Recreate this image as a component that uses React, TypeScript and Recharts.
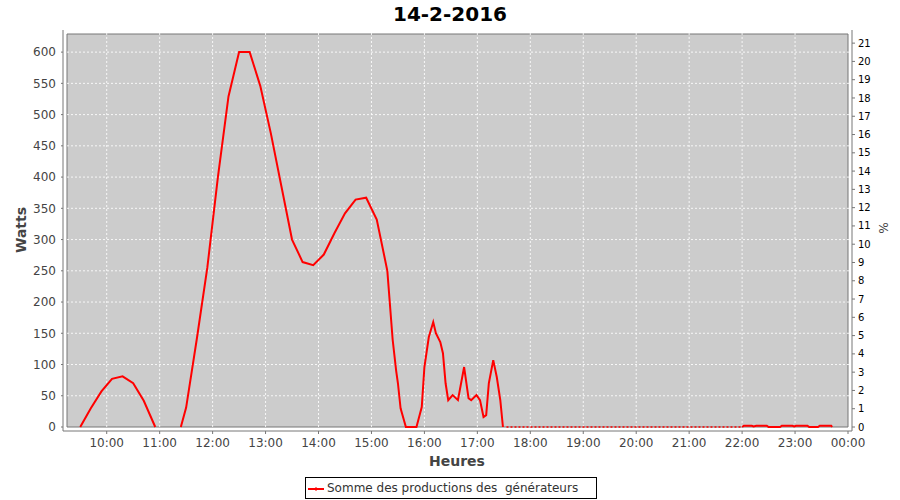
import { LineChart, Line, XAxis, YAxis, ReferenceArea, ReferenceLine } from 'recharts';

// minutes since midnight / watts (null = no data)
const times = [
  570, 582, 594, 606, 618, 630, 642, 655, 668,
  684, 690, 702, 714, 726, 738, 750, 762, 774, 786, 798, 810, 822, 834, 846, 858, 870, 882, 894, 906, 918,
  924, 928, 930, 933, 939, 951,
  957, 960, 965, 970, 973, 978, 981, 984, 987, 992, 998, 1005, 1010, 1013, 1019, 1023, 1027, 1030, 1033, 1038, 1042, 1046, 1049,
  1100,
  1320, 1322, 1331, 1333, 1336, 1348, 1350, 1363, 1365, 1377, 1379, 1381, 1394, 1396, 1406, 1408, 1421, 1422,
];
const watts = [
  0, 30, 57, 77, 81, 70, 42, 0, null,
  0, 31, 140, 255, 400, 529, 600, 600, 546, 470, 385, 300, 264, 259, 276, 310, 342, 364, 367, 332, 250,
  140, 90, 70, 30, 0, 0,
  32, 96, 144, 168, 150, 136, 118, 70, 43, 51, 43, 96, 46, 43, 51, 43, 16, 19, 70, 107, 80, 43, 0,
  null,
  0, 2, 2, 1, 2, 2, 0, 0, 2, 2, 1, 2, 2, 0, 0, 2, 2, 0,
];

// dotted zero stretch after sunset
const tailTimes = [1053, 1320];
const tailValues = [0, 0];

const hourTicks = [600, 660, 720, 780, 840, 900, 960, 1020, 1080, 1140, 1200, 1260, 1320, 1380, 1440];
const wattTicks = [0, 50, 100, 150, 200, 250, 300, 350, 400, 450, 500, 550, 600];
const pctTicks = [0, 1, 2, 3, 4, 5, 6, 7, 8, 9, 10, 11, 12, 13, 14, 15, 16, 17, 18, 19, 20, 21];

const data = times.map((t, i) => ({ t, w: watts[i] }));
const tail = tailTimes.map((t, i) => ({ t, p: tailValues[i] }));

const font = '"DejaVu Sans", sans-serif';

const fmtHour = (m: number) => {
  const h = Math.floor(m / 60) % 24;
  return `${h < 10 ? '0' : ''}${h}:00`;
};

export default function App() {
  return (
    <div style={{ position: 'relative', width: 900, height: 500, fontFamily: font, background: '#fff' }}>
      <style>{`body{margin:0}`}</style>
      <LineChart width={900} height={500} margin={{ top: 30, right: 8, bottom: 39, left: 3 }}>
        <XAxis
          dataKey="t"
          type="number"
          domain={[555, 1440]}
          ticks={hourTicks}
          tickFormatter={fmtHour}
          padding={{ left: 4, right: 4 }}
          height={30}
          tickSize={3}
          tickMargin={4}
          interval={0}
          stroke="#777"
          tick={{ fill: '#444', fontSize: 12, fontFamily: font }}
          allowDuplicatedCategory={false}
        />
        <YAxis
          yAxisId="w"
          domain={[0, 629]}
          ticks={wattTicks}
          padding={{ top: 4, bottom: 4 }}
          width={60}
          tickSize={2}
          tickMargin={5}
          interval={0}
          stroke="#777"
          tick={{ fill: '#444', fontSize: 12, fontFamily: font }}
        />
        <YAxis
          yAxisId="pct"
          orientation="right"
          domain={[0, 21.5]}
          ticks={pctTicks}
          padding={{ top: 4, bottom: 4 }}
          width={40}
          tickSize={3}
          tickMargin={3}
          interval={0}
          stroke="#777"
          tick={{ fill: '#000', fontSize: 10, fontFamily: font }}
        />
        <ReferenceArea yAxisId="w" x1={555} x2={1440} y1={0} y2={629} fill="#cccccc" fillOpacity={1} stroke="#777" strokeWidth={1} />
        {hourTicks.slice(0, -1).map((t) => (
          <ReferenceLine key={`v${t}`} yAxisId="w" x={t} stroke="#ffffff" strokeOpacity={0.85} strokeDasharray="2 2" />
        ))}
        {wattTicks.slice(1).map((v) => (
          <ReferenceLine key={`h${v}`} yAxisId="w" y={v} stroke="#ffffff" strokeOpacity={0.85} strokeDasharray="2 2" />
        ))}
        <Line
          yAxisId="pct"
          data={tail}
          dataKey="p"
          stroke="#ff0000"
          strokeWidth={1.5}
          strokeDasharray="2 2"
          dot={false}
          legendType="none"
          isAnimationActive={false}
        />
        <Line
          yAxisId="w"
          data={data}
          dataKey="w"
          type="linear"
          stroke="#ff0000"
          strokeWidth={2}
          dot={false}
          connectNulls={false}
          isAnimationActive={false}
        />
      </LineChart>
      <svg width={900} height={500} style={{ position: 'absolute', left: 0, top: 0, pointerEvents: 'none' }}>
        <text x={450} y={21} textAnchor="middle" fontFamily={font} fontSize={20} fontWeight="bold" fill="#000">
          14-2-2016
        </text>
        <text
          x={0}
          y={0}
          transform="translate(26,230) rotate(-90)"
          textAnchor="middle"
          fontFamily={font}
          fontSize={14}
          fontWeight="bold"
          fill="#444"
        >
          Watts
        </text>
        <text x={457} y={466} textAnchor="middle" fontFamily={font} fontSize={14} fontWeight="bold" fill="#444">
          Heures
        </text>
        <text x={0} y={0} transform="translate(879,228) rotate(90)" textAnchor="middle" fontFamily={font} fontSize={12} fill="#444">
          %
        </text>
      </svg>
      <div
        style={{
          position: 'absolute',
          left: 305,
          top: 477,
          width: 290,
          height: 20,
          border: '1px solid #000',
          display: 'flex',
          alignItems: 'center',
          boxSizing: 'content-box',
        }}
      >
        <svg width={20} height={20} style={{ flex: 'none' }}>
          <line x1={2} y1={11} x2={18} y2={11} stroke="#ff0000" strokeWidth={2} />
          <rect x={9} y={9.5} width={2} height={3} fill="#ff0000" />
        </svg>
        <span style={{ whiteSpace: 'pre', fontSize: 12, color: '#333', fontFamily: font, marginLeft: 1 }}>
          Somme des productions des  générateurs
        </span>
      </div>
    </div>
  );
}
